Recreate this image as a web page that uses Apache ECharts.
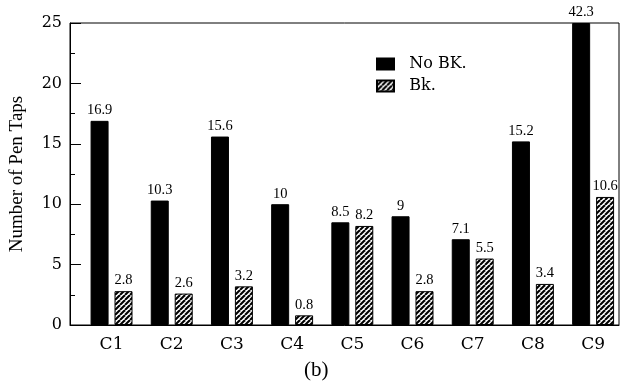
<!DOCTYPE html>
<html>
<head>
<meta charset="utf-8">
<script src="https://cdn.jsdelivr.net/npm/echarts@6/dist/echarts.min.js"></script>
<style>html,body{margin:0;padding:0;background:#fff}#c{width:634px;height:389px}</style>
</head>
<body>
<div id="c"></div>
<script>
const categories = ['C1', 'C2', 'C3', 'C4', 'C5', 'C6', 'C7', 'C8', 'C9'];
const noBkValues = [16.9, 10.3, 15.6, 10, 8.5, 9, 7.1, 15.2, 42.3];
const bkValues = [2.8, 2.6, 3.2, 0.8, 8.2, 2.8, 5.5, 3.4, 10.6];
const seriesNames = ['No BK.', 'Bk.'];
const yMax = 25;

function hatch() {
  const n = 5;
  const cv = document.createElement('canvas');
  cv.width = n; cv.height = n;
  const ctx = cv.getContext('2d');
  ctx.fillStyle = '#fff';
  ctx.fillRect(0, 0, n, n);
  ctx.strokeStyle = '#000';
  ctx.lineWidth = 2.1;
  for (const k of [-n, 0, n]) {
    ctx.beginPath();
    ctx.moveTo(k, n);
    ctx.lineTo(k + n, 0);
    ctx.stroke();
  }
  return { image: cv, repeat: 'repeat' };
}

const toData = arr => arr.map((v, i) => ({ value: [i + 1, Math.min(v, yMax)], raw: v }));

const labelCfg = {
  show: true,
  position: 'top',
  distance: 3,
  color: '#000',
  fontFamily: 'Liberation Serif',
  fontSize: 14.5,
  formatter: p => String(p.data.raw)
};

const chart = echarts.init(document.getElementById('c'));
chart.setOption({
  animation: false,
  backgroundColor: '#fff',
  title: {
    text: '(b)', left: 304, top: 360, padding: 0,
    textStyle: { fontFamily: 'Liberation Serif', fontSize: 21, fontWeight: 'normal', color: '#000' }
  },
  legend: {
    orient: 'vertical', left: 376, top: 56, padding: 0,
    icon: 'rect',
    itemWidth: 17, itemHeight: 11, itemGap: 6,
    textStyle: { fontFamily: 'DejaVu Serif', fontSize: 16, color: '#000' },
    formatter: name => '  ' + name,
    data: seriesNames
  },
  grid: {
    left: 67, right: 15, top: 23, bottom: 64,
    show: true, borderColor: '#000', borderWidth: 1, backgroundColor: '#fff'
  },
  xAxis: {
    type: 'value', min: 0.31, max: 9.43, minInterval: 1, maxInterval: 1,
    axisLine: { show: true, lineStyle: { color: '#000', width: 1 } },
    axisTick: { show: false },
    splitLine: { show: false },
    axisLabel: {
      margin: 11, color: '#000', fontFamily: 'DejaVu Serif', fontSize: 17,
      showMinLabel: false, showMaxLabel: false,
      formatter: v => {
        const r = Math.round(v);
        return (Math.abs(v - r) < 1e-6 && r >= 1 && r <= categories.length) ? categories[r - 1] : '';
      }
    }
  },
  yAxis: {
    type: 'value', min: 0, max: yMax, interval: 5,
    name: 'Number of Pen Taps', nameLocation: 'middle', nameGap: 43,
    nameTextStyle: { fontFamily: 'Liberation Serif', fontSize: 19, color: '#000' },
    axisLine: { show: true, lineStyle: { color: '#000', width: 1 } },
    axisTick: { show: true, inside: true, length: 11, lineStyle: { color: '#000' } },
    minorTick: { show: true, splitNumber: 2, length: 5, lineStyle: { color: '#000' } },
    splitLine: { show: false },
    axisLabel: { margin: 8, color: '#000', fontFamily: 'DejaVu Serif', fontSize: 16 }
  },
  series: [
    {
      name: seriesNames[0], type: 'bar', barWidth: 18, barGap: '33%',
      itemStyle: { color: '#000', borderColor: '#000', borderWidth: 1 },
      label: labelCfg,
      data: toData(noBkValues)
    },
    {
      name: seriesNames[1], type: 'bar', barWidth: 18, barGap: '33%',
      itemStyle: { color: hatch(), borderColor: '#000', borderWidth: 1 },
      label: labelCfg,
      data: toData(bkValues)
    }
  ]
});
</script>
</body>
</html>
